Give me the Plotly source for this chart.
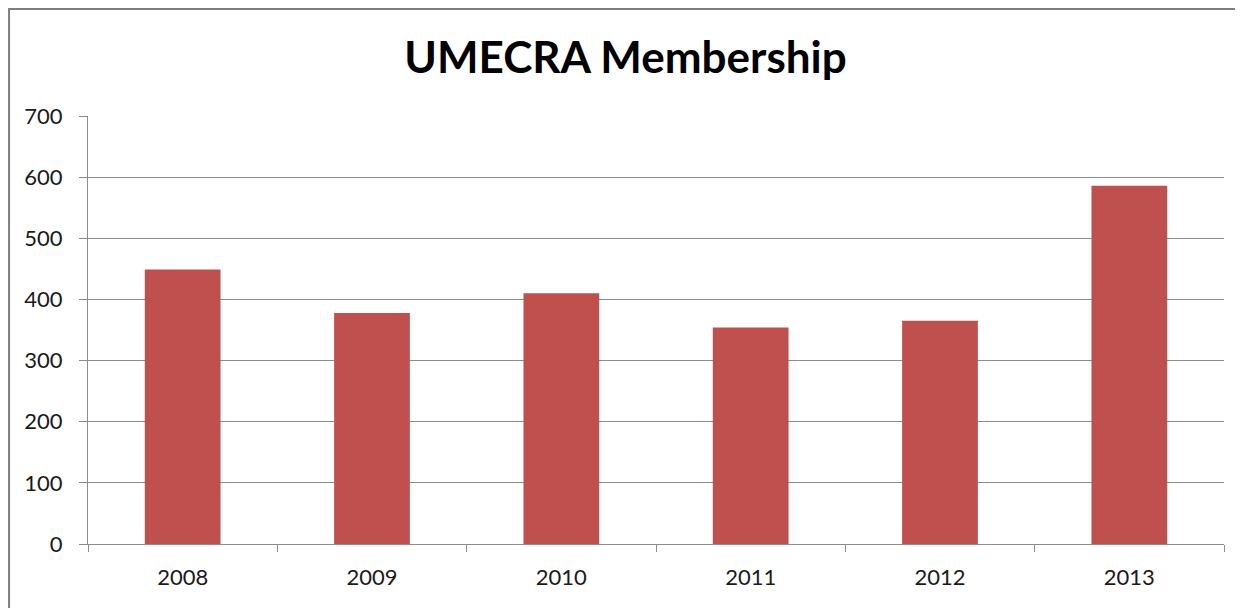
import plotly.graph_objects as go

years = ["2008", "2009", "2010", "2011", "2012", "2013"]
members = [449, 378, 410, 354, 365, 586]

grid_col = "#8c8c8c"

fig = go.Figure()
fig.add_trace(go.Bar(x=years, y=members, marker=dict(color="#C0504D", line=dict(width=0))))

# the page body adds an 8px offset, so the figure is 8px smaller than the window
fig.update_layout(
    width=1235, height=600,
    margin=dict(l=80, r=19, t=108, b=64),
    paper_bgcolor="white", plot_bgcolor="white",
    showlegend=False,
    bargap=0.6,
    font=dict(family="Lato, Open Sans, sans-serif", size=22, color="#1a1a1a"),
    title=dict(text="<b>UMECRA Membership</b>", x=0.5, xanchor="center",
               y=0.918, yanchor="middle",
               font=dict(size=44, color="#000000")),
)
fig.update_xaxes(
    type="category", showline=True, linecolor=grid_col, linewidth=1,
    ticks="outside", tickson="boundaries", ticklen=7, tickcolor=grid_col,
    ticklabelstandoff=14, showgrid=False,
)
fig.update_yaxes(
    range=[0, 700], dtick=100, showline=True, linecolor=grid_col, linewidth=1,
    ticks="outside", ticklen=8, tickcolor=grid_col, ticklabelstandoff=12,
    showgrid=True, gridcolor=grid_col, gridwidth=1,
    zeroline=False,
)
# outer chart border
fig.add_shape(type="rect", xref="paper", yref="paper",
              x0=-0.0695, x1=1.03, y0=-0.2, y1=1.25,
              line=dict(color="#7f7f7f", width=2), fillcolor="rgba(0,0,0,0)")

fig.write_html("out.html")
